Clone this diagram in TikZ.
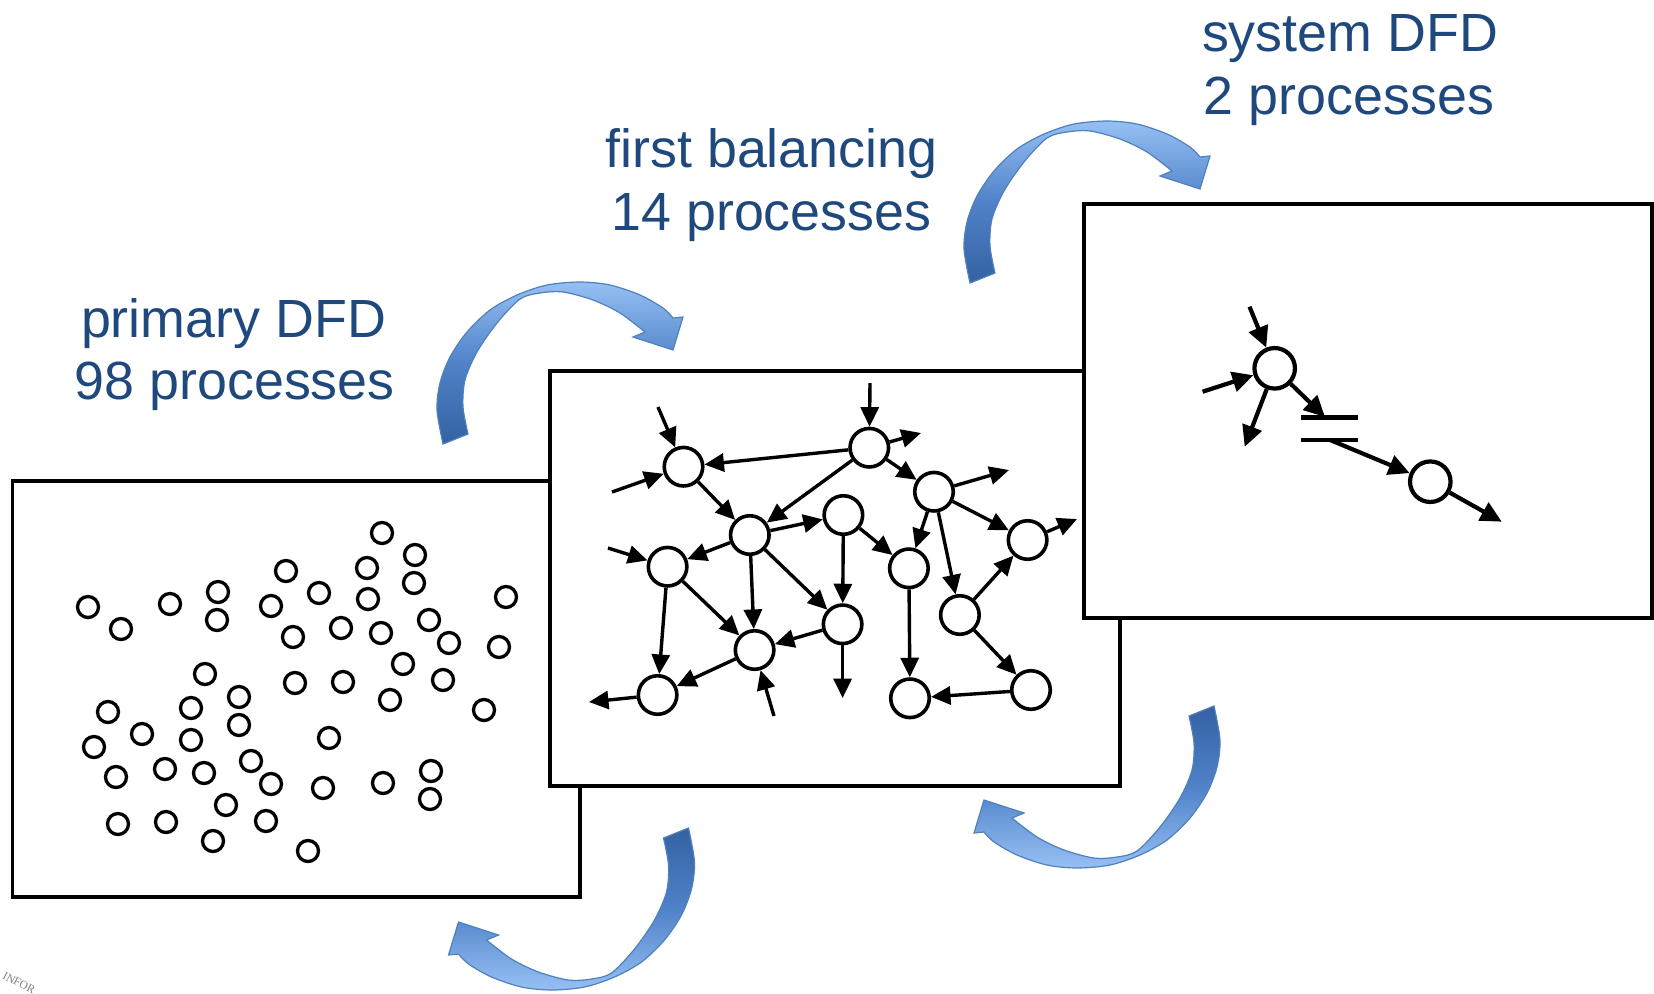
\documentclass[tikz,border=0pt]{standalone}
\usepackage{fontspec}
\setmainfont{Liberation Sans}
\newfontfamily\logofont{Liberation Serif}
\usetikzlibrary{shapes,positioning,arrows,arrows.meta}

\definecolor{titleblue}{RGB}{31,73,125}
\definecolor{arrowlight}{RGB}{150,192,244}
\definecolor{arrowmid}{RGB}{80,130,200}
\definecolor{arrowdark}{RGB}{52,98,162}
\definecolor{arrowedge}{RGB}{79,129,189}

\tikzset{
	dfdbox/.style={draw, fill=white, line width=0.038cm, inner sep=0pt},
	tinyproc/.style={circle, draw, line width=0.033cm, minimum size=0.21cm, inner sep=0pt},
	proc/.style={circle, draw, line width=0.036cm, minimum size=0.385cm, inner sep=0pt},
	flow/.style={line width=0.034cm, -{Triangle[length=0.195cm,width=0.18cm]}},
	sysproc/.style={circle, draw, line width=0.042cm, minimum size=0.405cm, inner sep=0pt},
	sysflow/.style={line width=0.042cm, -{Triangle[length=0.21cm,width=0.2cm]}},
	storeline/.style={line width=0.045cm},
	headline/.style={font=\fontsize{15.3}{18}\selectfont, text=titleblue, inner sep=0pt, anchor=base}
}

% curved block arrow: #1 placement, #2 top colour, #3 bottom colour
\newcommand{\bluearrow}[3]{%
	\begin{scope}[#1]
		\shade[top color=#2, bottom color=#3, middle color=arrowmid, draw=arrowedge, line width=0.012cm]
			plot[smooth] coordinates {(443,444) (437,410) (440,383) (450,357) (467,332) (490,310) (517,295) (547,285) (580,282) (610,285) (640,295) (663,308) (673,318)}
			-- (683,317) -- (673,350) -- (633,337)
			-- plot[smooth] coordinates {(645,332) (620,313) (593,300) (563,292) (540,293) (520,299) (497,323) (477,352) (465,380) (463,407) (468,434)}
			-- cycle;
	\end{scope}}

\begin{document}
\begin{tikzpicture}[x=0.01cm, y=-0.01cm]
	\useasboundingbox (0,0) rectangle (1654,993);

	% primary DFD
	\node[dfdbox, minimum width=5.673cm, minimum height=4.16cm] (primary) at (296.4,689) {};
	\foreach \x/\y [count=\i] in {382/533, 415/555, 367/568, 286/571, 414/583, 218/592, 319/593,
		368/599, 506/597, 88/607, 170/604, 271/606, 217/620, 121/629, 429/620, 341/628, 381/633,
		293/637, 449/643, 499/647, 403/664, 205/674, 295/683, 343/682, 443/680, 239/697, 390/700,
		484/710, 108/712, 191/708, 239/725, 142/734, 191/740, 329/738, 94/747, 251/761, 165/769,
		204/773, 116/777, 271/784, 323/788, 383/783, 431/771, 430/799, 226/805, 118/824, 166/822,
		266/821, 213/841, 308/851}
		\node[tinyproc] (d\i) at (\x,\y) {};

	% first balancing
	\node[dfdbox, minimum width=5.70cm, minimum height=4.15cm] (balancing) at (835,578.5) {};
	\node[proc] (f1) at (683.5,466.7) {};
	\node[proc] (f2) at (869.3,447.7) {};
	\node[proc] (f3) at (934,491.7) {};
	\node[proc] (f4) at (749.8,535) {};
	\node[proc] (f5) at (843.4,515) {};
	\node[proc] (f6) at (667.6,566.7) {};
	\node[proc] (f7) at (908.9,568.3) {};
	\node[proc] (f8) at (1027.6,540) {};
	\node[proc] (f9) at (959.9,615) {};
	\node[proc] (f10) at (842.6,624.3) {};
	\node[proc] (f11) at (754.6,650) {};
	\node[proc] (f12) at (657.6,695) {};
	\node[proc] (f13) at (910,698.3) {};
	\node[proc] (f14) at (1031,690) {};
	\coordinate (in1) at (658,407);
	\coordinate (in2) at (612,492);
	\coordinate (in3) at (870,383);
	\coordinate (in4) at (608,548);
	\coordinate (in5) at (774,716);
	\coordinate (out1) at (921,433);
	\coordinate (out2) at (1009,470);
	\coordinate (out3) at (1077,519);
	\coordinate (out4) at (842.6,698);
	\coordinate (out5) at (589,702);
	\draw[flow] (in1) -- (f1);
	\draw[flow] (in2) -- (f1);
	\draw[flow] (in3) -- (f2);
	\draw[flow] (in4) -- (f6);
	\draw[flow] (in5) -- (f11);
	\draw[flow] (f2) -- (out1);
	\draw[flow] (f3) -- (out2);
	\draw[flow] (f8) -- (out3);
	\draw[flow] (f10) -- (out4);
	\draw[flow] (f12) -- (out5);
	\draw[flow] (f2) -- (f1);
	\draw[flow] (f2) -- (f3);
	\draw[flow] (f2) -- (f4);
	\draw[flow] (f1) -- (f4);
	\draw[flow] (f3) -- (f8);
	\draw[flow] (f3) -- (f7);
	\draw[flow] (f3) -- (f9);
	\draw[flow] (f4) -- (f5);
	\draw[flow] (f4) -- (f6);
	\draw[flow] (f4) -- (f11);
	\draw[flow] (f4) -- (f10);
	\draw[flow] (f5) -- (f10);
	\draw[flow] (f5) -- (f7);
	\draw[flow] (f6) -- (f12);
	\draw[flow] (f6) -- (f11);
	\draw[flow] (f10) -- (f11);
	\draw[flow] (f11) -- (f12);
	\draw[flow] (f7) -- (f13);
	\draw[flow] (f9) -- (f8);
	\draw[flow] (f9) -- (f14);
	\draw[flow] (f14) -- (f13);

	% system DFD
	\node[dfdbox, minimum width=5.68cm, minimum height=4.14cm] (system) at (1368,411) {};
	\node[sysproc] (s1) at (1274.7,368.3) {};
	\node[sysproc] (s2) at (1430.3,481.7) {};
	\node[minimum width=0.55cm, minimum height=0.207cm, inner sep=0pt] (store) at (1329.6,428.7) {};
	\draw[storeline] (store.north west) -- (store.north east)
		(store.south west) -- (store.south east);
	\coordinate (sin1) at (1249.5,306.7);
	\coordinate (sin2) at (1202.6,391.7);
	\coordinate (sout1) at (1244.7,446.7);
	\coordinate (sout2) at (1501.7,521.7);
	\coordinate (sstore) at (1325,417);
	\draw[sysflow] (sin1) -- (s1);
	\draw[sysflow] (sin2) -- (s1);
	\draw[sysflow] (s1) -- (sout1);
	\draw[sysflow] (s1) -- (sstore);
	\draw[sysflow] (store.south) -- (s2);
	\draw[sysflow] (s2) -- (sout2);

	% curved arrows
	\bluearrow{}{arrowlight}{arrowdark}
	\bluearrow{shift={(527,-161)}}{arrowlight}{arrowdark}
	\bluearrow{shift={(1657,1150)}, rotate=180}{arrowdark}{arrowlight}
	\bluearrow{shift={(1131.5,1272)}, rotate=180}{arrowdark}{arrowlight}

	% labels
	\node[headline] (primarytitle) at (233.5,337) {primary DFD};
	\node[headline] (primarycount) at (234.8,399) {98 processes};
	\node[headline] (balancingtitle) at (771.5,167.5) {first balancing};
	\node[headline] (balancingcount) at (771.5,230.5) {14 processes};
	\node[headline] (systemtitle) at (1350,51) {system DFD};
	\node[headline] (systemcount) at (1349,114) {2 processes};

	\node[rotate=-28, text=gray, font=\logofont\fontsize{3.3}{4}\selectfont, inner sep=0pt] (logo) at (19,983) {INFOR};
\end{tikzpicture}
\end{document}
